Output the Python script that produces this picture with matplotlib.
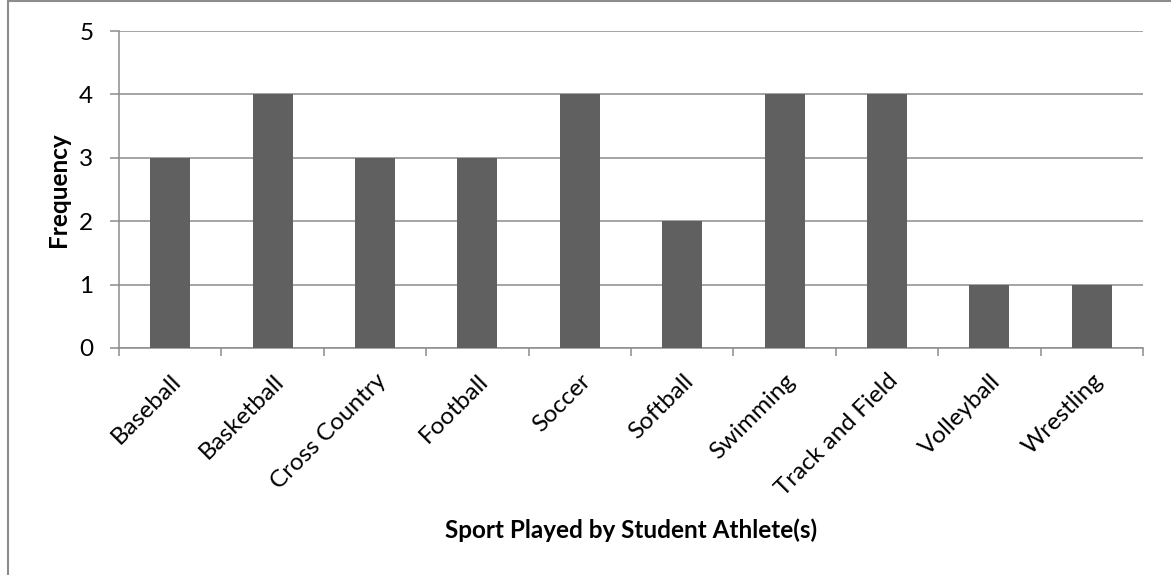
import matplotlib.pyplot as plt
from matplotlib.patches import Rectangle
import numpy as np

sports = ['Baseball', 'Basketball', 'Cross Country', 'Football', 'Soccer',
          'Softball', 'Swimming', 'Track and Field', 'Volleyball', 'Wrestling']
frequency = [3, 4, 3, 3, 4, 2, 4, 4, 1, 1]
y_ticks = [0, 1, 2, 3, 4, 5]

plt.rcParams['font.family'] = ['Lato', 'DejaVu Sans']

GRID = '#8c8c8c'
BAR = '#606060'
FS = 17.5
FS_TITLE = 17.5

fig = plt.figure(figsize=(11.71, 5.75), dpi=100)
ax = fig.add_axes([119 / 1171, 1 - 348 / 575, (1143 - 119) / 1171, (348 - 31) / 575])

x = np.arange(len(sports))
ax.bar(x, frequency, width=0.39, color=BAR, zorder=3)

ax.set_xlim(-0.5, len(sports) - 0.5)
ax.set_ylim(0, 5)
ax.set_yticks(y_ticks)
ax.yaxis.grid(True, color=GRID, linewidth=1.1, zorder=0)

# category labels in the middle, tick marks on the boundaries
ax.set_xticks(x)
ax.set_xticklabels(sports, rotation=45, ha='right', rotation_mode='anchor', fontsize=FS)
ax.tick_params(axis='x', which='major', length=0, pad=16)
ax.set_xticks(np.arange(-0.5, len(sports), 1), minor=True)
ax.tick_params(axis='x', which='minor', length=6, width=1.1, color=GRID, direction='out')
ax.tick_params(axis='y', length=6.5, width=1.1, color=GRID, labelsize=FS, pad=12)

for side in ['top', 'right']:
    ax.spines[side].set_visible(False)
for side in ['left', 'bottom']:
    ax.spines[side].set_color(GRID)
    ax.spines[side].set_linewidth(1.1)

fig.text(59 / 1171, 1 - 190 / 575, 'Frequency', rotation=90,
         ha='center', va='center', fontsize=FS_TITLE, fontweight='bold')
fig.text(631 / 1171, 1 - 530 / 575, 'Sport Played by Student Athlete(s)',
         ha='center', va='center', fontsize=FS_TITLE, fontweight='bold')

# chart frame
fig.patches.append(Rectangle((7.5 / 1171, -0.5), 2, 1.5 - 1.5 / 575,
                             transform=fig.transFigure, fill=False,
                             edgecolor=GRID, linewidth=1.5))

fig.savefig('out.png', dpi=100)
